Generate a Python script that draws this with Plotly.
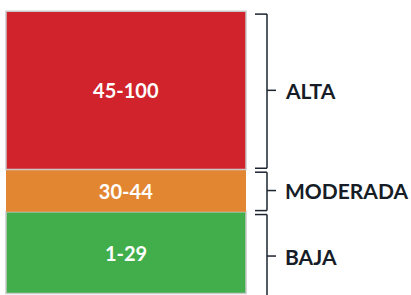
import plotly.graph_objects as go

# Data
levels = ["BAJA", "MODERADA", "ALTA"]
range_low = [1, 30, 45]
range_high = [29, 44, 100]
range_labels = ["1-29", "30-44", "45-100"]
colors = ["#41ae4b", "#e38632", "#d0232b"]
border_colors = ["#c9c9c9", "rgba(0,0,0,0)", "#c9c9c9"]

W, H = 411, 295
bases = [lo - 1 for lo in range_low]
heights = [hi - lo + 1 for lo, hi in zip(range_low, range_high)]

fig = go.Figure()
for i in range(len(levels)):
    fig.add_trace(go.Bar(
        x=[0], y=[heights[i]], base=[bases[i]], width=[1],
        marker=dict(color=colors[i], line=dict(color=border_colors[i], width=1.5)),
        text=[range_labels[i]], textposition="inside", insidetextanchor="middle",
        textangle=0,
        insidetextfont=dict(color="white", size=20, family="Lato", weight="bold"),
        hoverinfo="skip", showlegend=False, cliponaxis=True,
    ))

# x layout: bar spans px 6..246
px_per_unit = 240
x0 = -0.5 - 6 / px_per_unit
x1 = 0.5 + (W - 246) / px_per_unit

shapes = []
annotations = []
line_style = dict(color="#1c2430", width=1.5)
xa, xb, xc = 255 / W, 267 / W, 276 / W
for i, lvl in enumerate(levels):
    top = range_high[i] - 1.0
    bot = bases[i] + 0.4
    if i == 0:
        bot = bases[i] - 5
    mid = bases[i] + heights[i] / 2
    if i == 0:
        mid -= 1.2
    for yy in (top, bot):
        shapes.append(dict(type="line", xref="paper", yref="y", x0=xa, x1=xb, y0=yy, y1=yy, line=line_style))
    shapes.append(dict(type="line", xref="paper", yref="y", x0=xb, x1=xb, y0=bot, y1=top, line=line_style))
    shapes.append(dict(type="line", xref="paper", yref="y", x0=xb, x1=xc, y0=mid, y1=mid, line=line_style))
    annotations.append(dict(
        xref="paper", yref="y", x=283 / W, y=mid, text=lvl, showarrow=False,
        xanchor="left", yanchor="middle",
        font=dict(family="Lato", size=21, color="#161d27", weight="bold"),
    ))

fig.update_layout(
    width=W, height=H,
    margin=dict(l=0, r=0, t=0, b=0),
    paper_bgcolor="white", plot_bgcolor="white",
    barmode="overlay",
    xaxis=dict(range=[x0, x1], visible=False, fixedrange=True),
    yaxis=dict(range=[-0.5, 104.0], visible=False, fixedrange=True),
    shapes=shapes, annotations=annotations,
)

fig.write_html(
    "out.html",
    config={"displayModeBar": False},
    post_script="document.body.style.margin='0';document.body.style.overflow='hidden';",
)
